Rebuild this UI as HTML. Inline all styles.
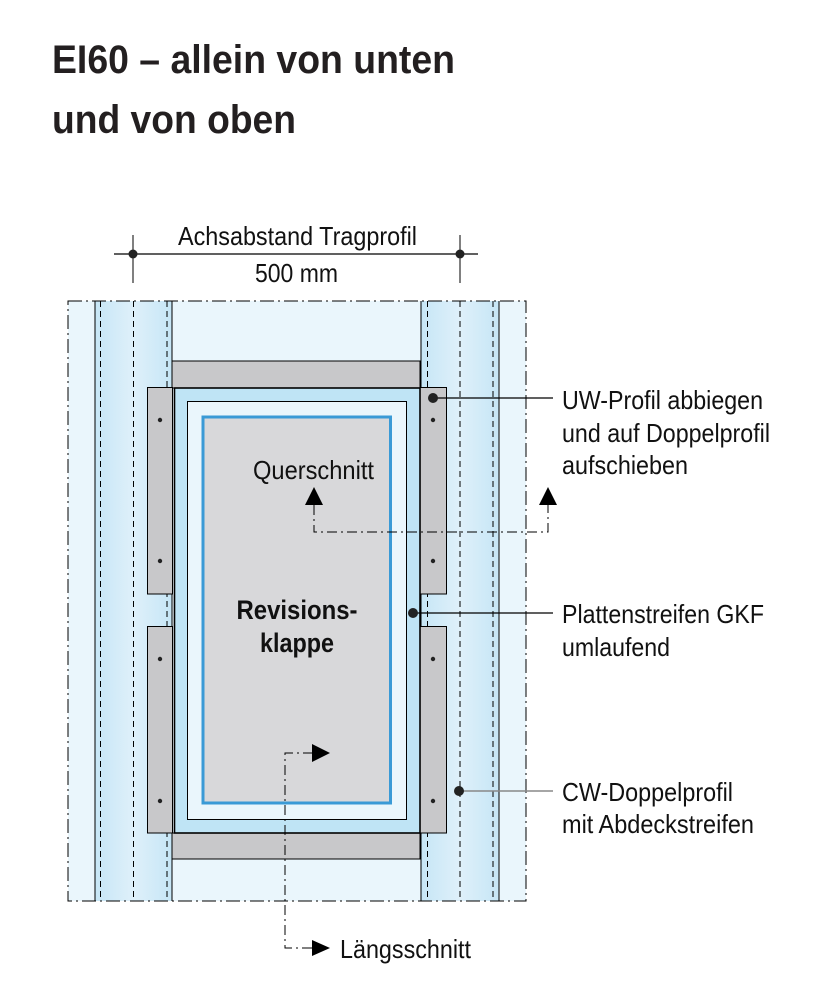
<!DOCTYPE html>
<html><head><meta charset="utf-8"><style>
html,body{margin:0;padding:0;background:#fff;}
svg{display:block;font-family:"Liberation Sans",Arial,sans-serif;}
</style></head><body>
<svg width="834" height="989" viewBox="0 0 834 989" xmlns="http://www.w3.org/2000/svg">
<defs>
<linearGradient id="col" x1="0" x2="1" y1="0" y2="0">
<stop offset="0" stop-color="#c6e6f6"/><stop offset="0.5" stop-color="#dff0fa"/><stop offset="1" stop-color="#c6e6f6"/>
</linearGradient>
</defs>
<!-- title -->
<text x="52" y="73" font-size="40" font-weight="bold" fill="#231f20" textLength="403" lengthAdjust="spacingAndGlyphs">EI60 – allein von unten</text>
<text x="52" y="133" font-size="40" font-weight="bold" fill="#231f20" textLength="244" lengthAdjust="spacingAndGlyphs">und von oben</text>

<!-- dimension -->
<line x1="114" y1="254" x2="478" y2="254" stroke="#000" stroke-width="1.2"/>
<line x1="133" y1="235" x2="133" y2="283" stroke="#000" stroke-width="1"/>
<line x1="460" y1="235" x2="460" y2="283" stroke="#000" stroke-width="1"/>
<circle cx="133" cy="254" r="4.5" fill="#222"/>
<circle cx="460" cy="254" r="4.5" fill="#222"/>
<text x="178" y="245" font-size="26" fill="#111" textLength="239" lengthAdjust="spacingAndGlyphs">Achsabstand Tragprofil</text>
<text x="255" y="282" font-size="26" fill="#111" textLength="83" lengthAdjust="spacingAndGlyphs">500 mm</text>

<!-- background region -->
<rect x="68" y="301" width="458" height="600" fill="#eaf6fc"/>
<rect x="95" y="301" width="77" height="600" fill="url(#col)"/>
<rect x="421" y="301" width="78" height="600" fill="url(#col)"/>
<rect x="68" y="301" width="458" height="600" fill="none" stroke="#000" stroke-width="1" stroke-dasharray="14,4,2,4"/>
<g stroke="#000" stroke-width="1" fill="none">
<line x1="95" y1="301" x2="95" y2="901"/>
<line x1="172" y1="301" x2="172" y2="901"/>
<line x1="421" y1="301" x2="421" y2="901"/>
<line x1="499" y1="301" x2="499" y2="901"/>
</g>
<g stroke="#000" stroke-width="1" stroke-dasharray="6,4" fill="none">
<line x1="100.5" y1="301" x2="100.5" y2="901"/>
<line x1="133.5" y1="301" x2="133.5" y2="901"/>
<line x1="167" y1="301" x2="167" y2="901"/>
<line x1="427.5" y1="301" x2="427.5" y2="901"/>
<line x1="460" y1="301" x2="460" y2="901"/>
<line x1="493" y1="301" x2="493" y2="901"/>
</g>

<!-- gray bars -->
<rect x="172" y="361" width="248" height="27" fill="#c8c8ca" stroke="#000" stroke-width="1"/>
<rect x="172" y="833" width="248" height="26" fill="#c8c8ca" stroke="#000" stroke-width="1"/>
<!-- side plates -->
<g fill="#c8c8ca" stroke="#000" stroke-width="1">
<rect x="147.5" y="387.5" width="25" height="206.5"/>
<rect x="147.5" y="626.5" width="25" height="206.5"/>
<rect x="420" y="387.5" width="26.5" height="206.5"/>
<rect x="420" y="626.5" width="26.5" height="206.5"/>
</g>
<g fill="#222">
<circle cx="160" cy="420" r="2.2"/><circle cx="160" cy="561" r="2.2"/>
<circle cx="160" cy="659" r="2.2"/><circle cx="160" cy="801" r="2.2"/>
<circle cx="433" cy="420" r="2.2"/><circle cx="433" cy="561" r="2.2"/>
<circle cx="433" cy="659" r="2.2"/><circle cx="433" cy="801" r="2.2"/>
</g>

<!-- frame -->
<rect x="174.5" y="388" width="245.5" height="445" fill="#bfe4f5" stroke="#000" stroke-width="1.6"/>
<rect x="187.5" y="401.5" width="219" height="418" fill="#eaf6fc" stroke="#000" stroke-width="1"/>
<rect x="203" y="417" width="187.5" height="386" fill="#d8d8da" stroke="#3a9ad6" stroke-width="3"/>

<!-- Querschnitt -->
<text x="253" y="479" font-size="26" fill="#111" textLength="121" lengthAdjust="spacingAndGlyphs">Querschnitt</text>
<polygon points="314,487 305,505 323,505" fill="#000"/>
<polygon points="548,487 539,505 557,505" fill="#000"/>
<path d="M314,505 V532 H548 V505" fill="none" stroke="#000" stroke-width="1" stroke-dasharray="10,4,2,4"/>

<!-- Revisionsklappe -->
<text x="297" y="619" font-size="27" font-weight="bold" fill="#111" text-anchor="middle" textLength="121" lengthAdjust="spacingAndGlyphs">Revisions-</text>
<text x="297" y="652" font-size="27" font-weight="bold" fill="#111" text-anchor="middle" textLength="74" lengthAdjust="spacingAndGlyphs">klappe</text>

<!-- Längsschnitt -->
<path d="M313,753 H285 V948 H313" fill="none" stroke="#000" stroke-width="1" stroke-dasharray="10,4,2,4"/>
<polygon points="312,744 330,753 312,762" fill="#000"/>
<polygon points="312,940 330,948 312,956" fill="#000"/>
<text x="340" y="958" font-size="26" fill="#111" textLength="131" lengthAdjust="spacingAndGlyphs">Längsschnitt</text>

<!-- callouts -->
<line x1="433" y1="398" x2="553" y2="398" stroke="#000" stroke-width="1.2"/>
<circle cx="433" cy="398" r="5" fill="#222"/>
<line x1="413" y1="613" x2="553" y2="613" stroke="#000" stroke-width="1.2"/>
<circle cx="413" cy="613" r="5" fill="#222"/>
<line x1="459" y1="791" x2="553" y2="791" stroke="#888" stroke-width="1.5"/>
<circle cx="459" cy="791" r="5" fill="#222"/>

<g font-size="26" fill="#111">
<text x="562" y="409" textLength="201" lengthAdjust="spacingAndGlyphs">UW-Profil abbiegen</text>
<text x="562" y="442" textLength="208" lengthAdjust="spacingAndGlyphs">und auf Doppelprofil</text>
<text x="562" y="474" textLength="126" lengthAdjust="spacingAndGlyphs">aufschieben</text>
<text x="562" y="623" textLength="202" lengthAdjust="spacingAndGlyphs">Plattenstreifen GKF</text>
<text x="562" y="656" textLength="108" lengthAdjust="spacingAndGlyphs">umlaufend</text>
<text x="562" y="801" textLength="171" lengthAdjust="spacingAndGlyphs">CW-Doppelprofil</text>
<text x="562" y="833" textLength="192" lengthAdjust="spacingAndGlyphs">mit Abdeckstreifen</text>
</g>
</svg>
</body></html>
